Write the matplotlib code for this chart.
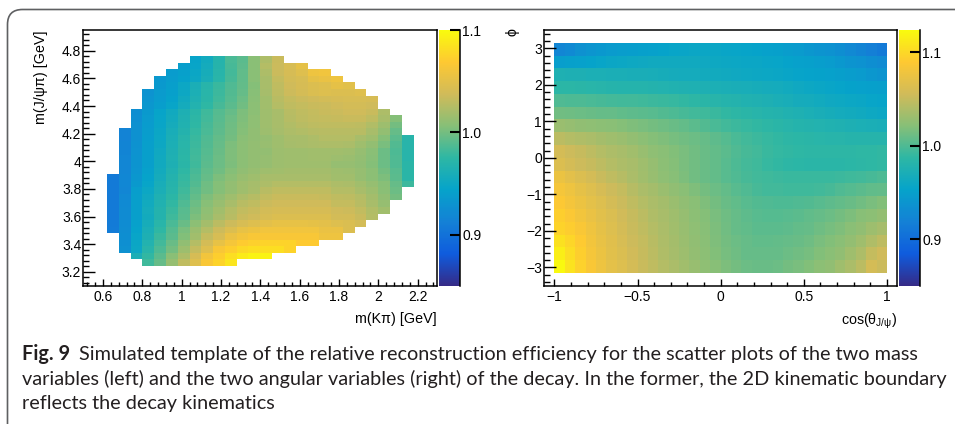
import numpy as np
import matplotlib
import matplotlib.pyplot as plt
from matplotlib.colors import LinearSegmentedColormap
from matplotlib.patches import FancyBboxPatch
from matplotlib.transforms import IdentityTransform
from matplotlib.ticker import MultipleLocator

matplotlib.use('Agg')

plt.rcParams['font.family'] = ['Liberation Sans', 'DejaVu Sans']
plt.rcParams['mathtext.fontset'] = 'custom'
plt.rcParams['mathtext.rm'] = 'Liberation Sans'
plt.rcParams['mathtext.it'] = 'Liberation Sans:italic'

# histogram binning of the two templates
mkpi_edges = np.linspace(0.5, 2.3, 31)        # m(K pi), 30 bins
mjpsipi_edges = np.linspace(3.1, 4.95, 40)    # m(J/psi pi), 39 bins
costh_edges = np.linspace(-1.0, 1.0, 33)      # cos(theta_J/psi), 32 bins
phi_edges = np.linspace(-3.15, 3.15, 19)      # phi, 18 bins

# relative efficiency (x1000), mass template, top row (m(J/psi pi) bin 34) first,
# columns are m(K pi) bins 2..27, '-' = outside the kinematic boundary
mass_eff_rows = [
    "- - - - - - - 945 953 968 985 991 1007 1022 1034 - - - - - - - - - - -",
    "- - - - - - 939 946 955 969 984 992 1007 1025 1035 1042 1051 - - - - - - - - -",
    "- - - - - 937 941 948 957 970 983 993 1007 1022 1035 1041 1047 1057 1059 - - - - - - -",
    "- - - - 934 938 943 950 959 971 984 993 1007 1020 1032 1039 1042 1051 1054 1057 - - - - - -",
    "- - - - 935 940 949 960 970 979 987 994 1005 1020 1030 1037 1041 1045 1047 1051 1049 - - - - -",
    "- - - 929 936 941 950 961 971 980 988 995 1006 1019 1029 1036 1040 1044 1046 1045 1045 1047 - - - -",
    "- - - 931 937 943 952 963 972 981 989 997 1007 1017 1027 1032 1035 1037 1039 1041 1042 1042 1041 - - -",
    "- - - 933 939 946 955 966 975 984 991 999 1008 1017 1025 1030 1032 1034 1035 1037 1039 1039 1037 - - -",
    "- - 925 935 945 952 962 972 981 989 995 1002 1008 1016 1020 1027 1030 1032 1034 1035 1037 1037 1034 1022 - -",
    "- - 926 936 946 954 964 974 982 990 997 1003 1009 1016 1020 1026 1029 1031 1032 1033 1034 1034 1030 1020 1005 -",
    "- - 927 937 947 956 965 975 984 991 998 1004 1009 1016 1020 1024 1027 1029 1030 1030 1030 1029 1024 1015 1000 -",
    "- 915 927 938 948 958 967 977 985 992 999 1005 1010 1015 1019 1022 1024 1026 1027 1027 1027 1027 1020 1011 995 -",
    "- 915 927 939 949 960 970 979 987 994 1000 1007 1010 1012 1016 1020 1020 1022 1025 1025 1025 1020 1016 1005 991 970",
    "- 916 928 940 950 961 971 980 988 995 1002 1008 1011 1013 1016 1019 1020 1021 1022 1022 1021 1016 1011 1001 988 970",
    "- 916 929 940 951 962 972 981 989 996 1003 1008 1011 1011 1015 1016 1016 1017 1017 1017 1016 1012 1007 997 986 970",
    "- 917 930 940 952 963 973 982 990 997 1003 1008 1011 1012 1015 1016 1016 1017 1017 1015 1014 1011 1006 997 987 970",
    "- 917 930 940 952 962 972 981 991 997 1002 1008 1011 1012 1015 1016 1016 1016 1016 1012 1012 1010 1005 997 987 972",
    "- 917 931 942 954 965 975 984 993 999 1005 1010 1013 1016 1017 1018 1018 1018 1018 1016 1015 1012 1008 1000 990 972",
    "907 918 933 944 956 967 977 986 995 1002 1008 1013 1016 1020 1020 1020 1020 1020 1020 1017 1017 1012 1008 1002 991 972",
    "907 918 935 946 958 969 979 988 998 1005 1011 1016 1019 1022 1025 1025 1025 1025 1025 1022 1021 1017 1012 1006 995 980",
    "907 917 939 949 960 970 981 991 999 1005 1011 1016 1020 1027 1030 1030 1030 1030 1030 1025 1025 1020 1015 1007 997 -",
    "907 920 940 951 963 973 984 994 1003 1010 1016 1022 1026 1031 1034 1034 1034 1034 1033 1030 1029 1025 1018 1010 1000 -",
    "907 921 940 953 965 976 987 997 1006 1013 1020 1027 1030 1035 1037 1037 1037 1037 1037 1032 1032 1027 1020 1012 - -",
    "907 922 940 955 967 979 990 1000 1009 1017 1025 1031 1034 1039 1041 1041 1041 1041 1041 1037 1036 1031 1024 1017 - -",
    "907 922 940 954 967 981 991 1002 1011 1020 1027 1034 1037 1042 1045 1045 1045 1045 1045 1039 1039 1034 1025 - - -",
    "908 923 942 957 971 985 996 1008 1018 1028 1036 1042 1046 1050 1052 1052 1052 1051 1050 1046 1044 1039 - - - -",
    "909 924 944 960 975 989 1001 1014 1025 1036 1045 1052 1056 1059 1059 1059 1059 1059 1054 1054 1045 - - - - -",
    "- 925 946 962 979 991 1004 1017 1032 1042 1054 1060 1064 1064 1064 1064 1064 1064 1057 1057 - - - - - -",
    "- 926 948 966 982 996 1010 1025 1040 1052 1062 1070 1073 1075 1075 1075 1069 1069 - - - - - - - -",
    "- 927 949 970 986 1000 1015 1032 1047 1064 1072 1079 1082 1082 1082 1075 - - - - - - - - - -",
    "- - 960 976 991 1007 1022 1041 1060 1072 1082 1090 1095 1095 - - - - - - - - - - - -",
    "- - - 981 995 1012 1030 1047 1065 1075 1086 - - - - - - - - - - - - - - -",
]

# relative efficiency (x1000), angular template, top row (phi near +pi) first,
# columns are cos(theta_J/psi) from -1 to 1
angle_eff_rows = [
    "924 928 934 939 942 944 946 947 949 951 953 955 956 957 957 957 956 955 954 953 951 949 946 944 941 938 935 932 927 922 917 913",
    "947 949 951 953 955 957 958 960 961 962 962 962 962 962 961 960 959 958 957 957 956 955 953 951 949 947 945 942 938 935 932 929",
    "974 973 973 972 972 971 971 970 970 969 968 967 966 965 964 963 962 961 960 959 958 957 956 954 953 952 950 948 946 944 941 938",
    "985 985 984 983 982 981 980 980 979 978 977 976 975 974 973 972 971 970 969 968 967 965 963 961 959 957 956 954 952 950 949 948",
    "1000 999 999 998 997 996 995 994 993 992 991 990 988 986 984 982 980 978 976 975 973 971 969 967 965 963 961 960 958 957 955 954",
    "1013 1012 1011 1010 1009 1008 1006 1005 1004 1003 1001 999 997 995 993 991 988 986 984 982 980 978 976 974 972 970 968 966 964 962 960 958",
    "1030 1028 1026 1025 1023 1022 1020 1018 1016 1014 1012 1010 1007 1004 1001 998 995 992 990 988 986 984 982 980 978 977 976 975 973 972 971 970",
    "1045 1042 1040 1037 1034 1032 1030 1027 1023 1020 1018 1015 1013 1011 1008 1005 1002 998 995 992 990 988 986 985 984 983 982 982 981 981 981 981",
    "1058 1054 1050 1046 1042 1039 1036 1033 1029 1025 1022 1019 1016 1013 1010 1007 1004 1000 997 994 991 989 988 987 986 986 986 986 986 987 987 988",
    "1063 1058 1054 1050 1046 1042 1039 1036 1032 1028 1024 1020 1016 1013 1010 1007 1003 999 996 993 990 988 986 985 984 984 984 984 985 986 987 988",
    "1075 1069 1063 1058 1052 1047 1043 1038 1033 1029 1025 1021 1017 1013 1010 1007 1003 1000 997 995 993 992 991 991 991 991 991 992 993 995 997 999",
    "1083 1077 1071 1065 1059 1054 1049 1043 1038 1034 1030 1026 1022 1018 1014 1011 1007 1003 1000 997 995 994 993 993 993 994 997 1000 1002 1004 1006 1007",
    "1088 1082 1076 1070 1064 1058 1053 1047 1042 1038 1034 1030 1026 1022 1018 1014 1010 1006 1003 1001 1000 999 999 1000 1001 1003 1005 1007 1010 1013 1016 1019",
    "1093 1087 1081 1074 1068 1062 1056 1050 1045 1040 1036 1032 1028 1024 1020 1016 1012 1008 1005 1003 1002 1002 1003 1004 1006 1008 1011 1014 1017 1021 1024 1027",
    "1097 1092 1086 1078 1071 1064 1058 1052 1047 1042 1037 1033 1029 1025 1021 1017 1013 1009 1006 1004 1004 1004 1005 1007 1009 1012 1015 1018 1022 1026 1031 1035",
    "1106 1099 1090 1081 1073 1066 1060 1054 1049 1044 1039 1034 1030 1026 1022 1018 1014 1011 1008 1006 1006 1007 1008 1010 1012 1016 1019 1022 1027 1032 1040 1046",
    "1115 1103 1093 1083 1075 1068 1062 1056 1050 1045 1040 1035 1031 1027 1023 1019 1015 1012 1009 1008 1008 1009 1011 1013 1015 1019 1022 1026 1032 1039 1049 1055",
    "1122 1107 1096 1086 1077 1070 1064 1058 1052 1047 1042 1037 1033 1029 1025 1021 1017 1014 1011 1010 1010 1011 1014 1016 1019 1023 1026 1032 1037 1045 1058 1053",
]

mass_cbar_range = (0.85, 1.10)
angle_cbar_range = (0.85, 1.124)
cbar_ticks = [0.9, 1.0, 1.1]

caption_bold = "Fig. 9"
caption_lines = [
    "Simulated template of the relative reconstruction efficiency for the scatter plots of the two mass",
    "variables (left) and the two angular variables (right) of the decay. In the former, the 2D kinematic boundary",
    "reflects the decay kinematics",
]


def parse(rows):
    return np.array([[np.nan if v == '-' else float(v) / 1000.0 for v in r.split()] for r in rows])


# ROOT kBird palette
bird_stops = [0.0, 0.125, 0.25, 0.375, 0.5, 0.625, 0.75, 0.875, 1.0]
bird_r = [0.2082, 0.0592, 0.0780, 0.0232, 0.1802, 0.5301, 0.8186, 0.9956, 0.9764]
bird_g = [0.1664, 0.3599, 0.5041, 0.6419, 0.7178, 0.7492, 0.7328, 0.7862, 0.9832]
bird_b = [0.5293, 0.8684, 0.8385, 0.7914, 0.6425, 0.4662, 0.3499, 0.1968, 0.0539]
bird = LinearSegmentedColormap.from_list(
    'bird', list(zip(bird_stops, zip(bird_r, bird_g, bird_b))), N=255)

W, H = 955, 424
fig = plt.figure(figsize=(W / 100, H / 100), dpi=100)


def px_axes(x0, y0, x1, y1):
    # rectangle given in pixels from the top-left corner
    return fig.add_axes([x0 / W, 1 - y1 / H, (x1 - x0) / W, (y1 - y0) / H])


def style_axes(ax, xmaj, xmin, ymaj, ymin):
    for s in ax.spines.values():
        s.set_linewidth(1.1)
    ax.xaxis.set_major_locator(MultipleLocator(xmaj))
    ax.xaxis.set_minor_locator(MultipleLocator(xmin))
    ax.yaxis.set_major_locator(MultipleLocator(ymaj))
    ax.yaxis.set_minor_locator(MultipleLocator(ymin))
    ax.tick_params(axis='both', which='both', direction='in', top=False, right=False,
                   labelsize=10, width=1.0)
    ax.tick_params(axis='x', which='major', length=5.3, pad=3)
    ax.tick_params(axis='x', which='minor', length=2.7)
    ax.tick_params(axis='y', which='major', length=8.4, pad=1.5)
    ax.tick_params(axis='y', which='minor', length=4.3)


def style_cbar(cb):
    cb.outline.set_visible(False)
    cb.set_ticks(cbar_ticks)
    cb.ax.set_yticklabels(['%.1f' % t for t in cbar_ticks])
    cb.ax.minorticks_off()
    cb.ax.tick_params(direction='in', length=7, width=1.5, labelsize=10, pad=1.5)
    cb.ax.plot([1, 1], [0, 1], transform=cb.ax.transAxes, color='k', lw=1.1, clip_on=False)


# ---- left: mass template
mass_full = np.full((len(mjpsipi_edges) - 1, len(mkpi_edges) - 1), np.nan)
mass_full[3:35, 2:28] = parse(mass_eff_rows)[::-1]

ax1 = px_axes(83.3, 30, 437.3, 285.7)
m1 = ax1.pcolormesh(mkpi_edges, mjpsipi_edges, np.ma.masked_invalid(mass_full), cmap=bird,
                    vmin=mass_cbar_range[0], vmax=mass_cbar_range[1], shading='flat',
                    edgecolors='none', antialiased=False)
ax1.set_xlim(0.5, 2.3)
ax1.set_ylim(3.1, 4.95)
style_axes(ax1, 0.2, 0.04, 0.2, 0.04)
ax1.set_yticks([3.2, 3.4, 3.6, 3.8, 4.0, 4.2, 4.4, 4.6, 4.8])
ax1.set_yticklabels(['3.2', '3.4', '3.6', '3.8', '4', '4.2', '4.4', '4.6', '4.8'])
ax1.set_xticks([0.6, 0.8, 1.0, 1.2, 1.4, 1.6, 1.8, 2.0, 2.2])
ax1.set_xticklabels(['0.6', '0.8', '1', '1.2', '1.4', '1.6', '1.8', '2', '2.2'])

cax1 = px_axes(439, 30, 460, 285.7)
cb1 = fig.colorbar(m1, cax=cax1)
style_cbar(cb1)

fig.text(437 / W, 1 - 319.5 / H, 'm(Kπ) [GeV]', ha='right', va='center', fontsize=10.3)
fig.text(41 / W, 1 - 30 / H, 'm(J/ψπ) [GeV]', ha='center', va='top', rotation=90, fontsize=10.3)

# ---- right: angular template
ax2 = px_axes(544, 30, 897.3, 285.7)
m2 = ax2.pcolormesh(costh_edges, phi_edges, parse(angle_eff_rows)[::-1], cmap=bird,
                    vmin=angle_cbar_range[0], vmax=angle_cbar_range[1], shading='flat',
                    edgecolors='none', antialiased=False)
ax2.set_xlim(-1.0625, 1.0625)
ax2.set_ylim(-3.5, 3.5)
style_axes(ax2, 0.5, 0.1, 1, 0.2)
ax2.set_xticks([-1, -0.5, 0, 0.5, 1])
ax2.set_xticklabels(['\u22121', '\u22120.5', '0', '0.5', '1'])

cax2 = px_axes(899, 30, 920, 285.7)
cb2 = fig.colorbar(m2, cax=cax2)
style_cbar(cb2)

fig.text(897 / W, 1 - 321 / H, 'cos(θ$_{\\mathregular{J/ψ}}$)', ha='right', va='center', fontsize=10.3)
fig.text(512 / W, 1 - 28 / H, 'ϕ', ha='center', va='top', rotation=90, fontsize=10.3,
         family=['Liberation Sans', 'DejaVu Sans'])

# ---- caption and frame
frame = FancyBboxPatch((7.5, -20), 980, H - 9.5 + 20, boxstyle='round,pad=0,rounding_size=15',
                       transform=IdentityTransform(), fill=False, edgecolor='#5f6062', lw=1.2)
fig.add_artist(frame)

cap_family = ['Lato', 'DejaVu Sans']
renderer = fig.canvas.get_renderer()
probe = fig.text(0, 0, caption_lines[1], fontsize=12, family=cap_family)
w = probe.get_window_extent(renderer).width
probe.remove()
cap_size = 12 * (943 - 22) / w

bold = fig.text(22 / W, 1 - 360 / H, caption_bold, fontsize=cap_size, family=cap_family,
                weight='bold', va='baseline', color='#231f20')
bw = bold.get_window_extent(renderer).width
fig.text((22 + bw + 9) / W, 1 - 360 / H, caption_lines[0], fontsize=cap_size,
         family=cap_family, va='baseline', color='#231f20')
fig.text(22 / W, 1 - 385 / H, caption_lines[1], fontsize=cap_size, family=cap_family,
         va='baseline', color='#231f20')
fig.text(22 / W, 1 - 409 / H, caption_lines[2], fontsize=cap_size, family=cap_family,
         va='baseline', color='#231f20')

fig.savefig('out.png', dpi=100)
plt.close(fig)
